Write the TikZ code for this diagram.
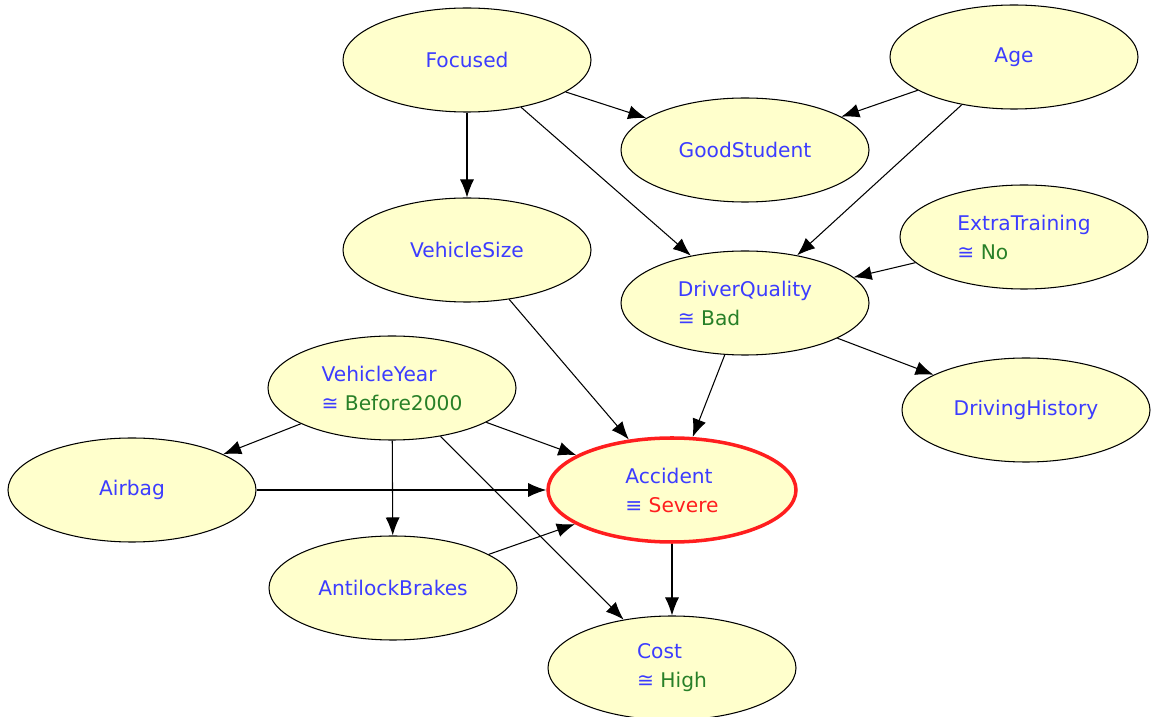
\documentclass[tikz,border=0pt]{standalone}
\usepackage{fontspec}
\setsansfont{DejaVu Sans}
\usepackage{xcolor}
\usetikzlibrary{shapes.geometric, arrows.meta}

\definecolor{netfill}{RGB}{255,255,204}
\definecolor{varblue}{RGB}{60,60,255}
\definecolor{stategreen}{RGB}{40,128,40}
\definecolor{evidred}{RGB}{255,30,30}

% state line under a variable name
\newcommand{\stval}[1]{\\≅ {\color{stategreen}#1}}
\newcommand{\evval}[1]{\\≡ {\color{evidred}#1}}

\begin{document}
\begin{tikzpicture}[
        >={Latex[length=3.6mm,width=2.8mm]},
        var_style/.style={ellipse, draw=black, line width=0.6pt, fill=netfill,
            minimum width=4.96cm, minimum height=2.08cm, inner sep=0pt,
            align=left, text=varblue, font=\sffamily\fontsize{11.5}{16.5}\selectfont},
        evid_style/.style={var_style, draw=evidred, line width=2pt},
        arrow_style/.style={->, line width=0.6pt, draw=black}
    ]
    \useasboundingbox (0,0) rectangle (23.02,14.34);

    % =========================================================================
    % 1. NODE PLACEMENTS
    % =========================================================================

    % Top row
    \node[var_style] (Focused)     at (9.34, 13.14) {Focused};
    \node[var_style] (Age)         at (20.28, 13.20) {Age};
    \node[var_style] (GoodStudent) at (14.90, 11.34) {GoodStudent};

    % Middle rows
    \node[var_style] (VehicleSize)    at (9.34, 9.34)  {VehicleSize};
    \node[var_style] (ExtraTraining)  at (20.48, 9.60) {ExtraTraining\stval{No}};
    \node[var_style] (DriverQuality)  at (14.90, 8.28) {DriverQuality\stval{Bad}};
    \node[var_style] (VehicleYear)    at (7.84, 6.58)  {VehicleYear\stval{Before2000}};
    \node[var_style] (DrivingHistory) at (20.52, 6.14) {DrivingHistory};

    % Bottom rows
    \node[var_style]  (Airbag)         at (2.64, 4.54)  {Airbag};
    \node[evid_style] (Accident)       at (13.44, 4.54) {Accident\evval{Severe}};
    \node[var_style]  (AntilockBrakes) at (7.86, 2.58)  {AntilockBrakes};
    \node[var_style]  (Cost)           at (13.44, 0.98) {Cost\stval{High}};

    % =========================================================================
    % 2. CONNECTING ARROWS
    % =========================================================================

    % Focused and Age
    \draw[arrow_style] (Focused) -- (GoodStudent);
    \draw[arrow_style] (Focused) -- (VehicleSize);
    \draw[arrow_style] (Focused) -- (DriverQuality);
    \draw[arrow_style] (Age) -- (GoodStudent);
    \draw[arrow_style] (Age) -- (DriverQuality);

    % Driver side
    \draw[arrow_style] (ExtraTraining) -- (DriverQuality);
    \draw[arrow_style] (DriverQuality) -- (DrivingHistory);
    \draw[arrow_style] (DriverQuality) -- (Accident);
    \draw[arrow_style] (VehicleSize) -- (Accident);

    % Vehicle year
    \draw[arrow_style] (VehicleYear) -- (Airbag);
    \draw[arrow_style] (VehicleYear) -- (Accident);
    \draw[arrow_style] (VehicleYear) -- (AntilockBrakes);
    \draw[arrow_style] (VehicleYear) -- (Cost);

    % Into accident and cost
    \draw[arrow_style] (Airbag) -- (Accident);
    \draw[arrow_style] (AntilockBrakes) -- (Accident);
    \draw[arrow_style] (Accident) -- (Cost);

\end{tikzpicture}
\end{document}
